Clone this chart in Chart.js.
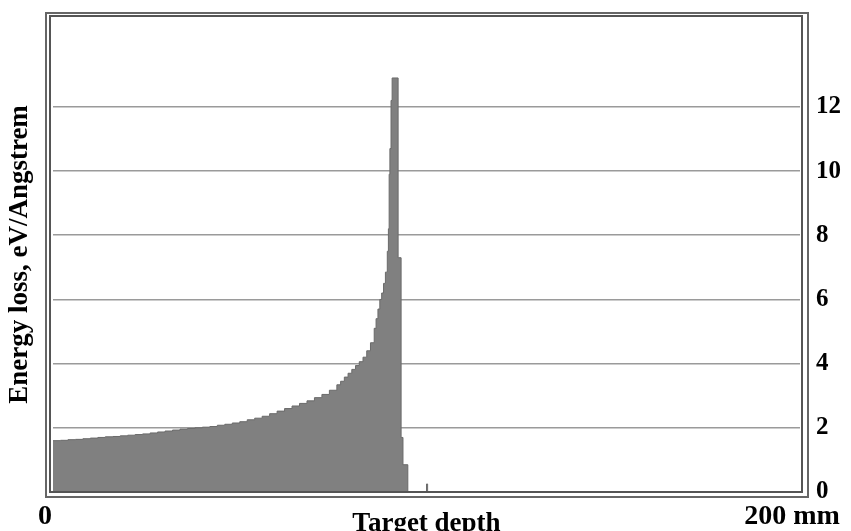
<!DOCTYPE html>
<html>
<head>
<meta charset="utf-8">
<title>Energy loss vs target depth</title>
<script src="https://cdn.jsdelivr.net/npm/chart.js@4.4.1/dist/chart.umd.min.js"></script>
<style>
  body { margin: 0; background: #fff; }
  canvas { display: block; }
</style>
</head>
<body>
<canvas id="bragg-chart" width="851" height="531"></canvas>
<script>
// histogram bins: left edge of each bin (mm) and energy loss in that bin
const depth = [
    0, 2, 4, 6, 8, 10, 12, 14, 16, 18, 20, 22, 24, 26, 28, 30, 32, 34, 36, 38,
    40, 42, 44, 46, 48, 50, 52, 54, 56, 58, 60, 62, 64, 66, 68, 70, 72, 74, 76,
    77, 78, 79, 80, 81, 82, 83, 84, 85, 86, 86.5, 87, 87.5, 88, 88.5, 89, 89.5,
    89.8, 90.0, 90.2, 90.5, 90.8, 92.4, 93.2, 93.7, 95.0, 100.0, 100.3
];
const energyLoss = [
    1.60, 1.61, 1.63, 1.64, 1.66, 1.68, 1.70, 1.72, 1.73, 1.75, 1.77, 1.79, 1.81,
    1.84, 1.87, 1.90, 1.93, 1.96, 1.98, 2.00, 2.02, 2.04, 2.08, 2.11, 2.15, 2.19,
    2.25, 2.30, 2.36, 2.44, 2.52, 2.60, 2.68, 2.76, 2.84, 2.94, 3.04, 3.17, 3.34,
    3.45, 3.58, 3.70, 3.82, 3.94, 4.06, 4.20, 4.40, 4.65, 5.10, 5.40, 5.70, 6.00,
    6.20, 6.50, 6.85, 7.50, 8.20, 9.90, 10.70, 12.20, 12.90, 7.30, 1.70, 0.85,
    0, 0.25, 0
];
const yTicks = [0, 2, 4, 6, 8, 10, 12];
const xTicks = [0, 200];

const serif = 'Liberation Serif';

// double frame round the plot area
const framePlugin = {
    id: 'frame',
    afterDraw(chart) {
        const { ctx, chartArea: a } = chart;
        ctx.save();
        ctx.strokeStyle = '#666666';
        ctx.lineWidth = 2;
        ctx.strokeRect(a.left - 7, a.top - 4, a.right - a.left + 15, a.bottom - a.top + 9);
        ctx.strokeStyle = '#555555';
        ctx.strokeRect(a.left - 3, a.top - 1, a.right - a.left + 5, a.bottom - a.top + 1);
        ctx.restore();
    }
};

// keep edge labels from shrinking the plot area
const noEdgePadding = s => {
    s.paddingTop = 0;
    s.paddingBottom = 0;
    s.paddingLeft = 0;
    s.paddingRight = 0;
};

document.addEventListener("DOMContentLoaded", () => {
    const ctx = document.getElementById('bragg-chart').getContext('2d');
    new Chart(ctx, {
        type: 'line',
        data: {
            datasets: [{
                data: depth.map((d, i) => ({ x: d, y: energyLoss[i] })),
                stepped: 'before',
                fill: 'origin',
                backgroundColor: '#808080',
                borderColor: '#6a6a6a',
                borderWidth: 1,
                pointRadius: 0,
                yAxisID: 'y'
            }]
        },
        plugins: [framePlugin],
        options: {
            responsive: false,
            animation: false,
            layout: { padding: { top: 17, right: 0, bottom: 0, left: 0 } },
            plugins: {
                legend: { display: false },
                tooltip: { enabled: false }
            },
            scales: {
                x: {
                    type: 'linear',
                    min: 0,
                    max: 200,
                    grid: { display: false },
                    border: { display: false },
                    afterBuildTicks: s => { s.ticks = xTicks.map(v => ({ value: v })); },
                    afterFit: s => { s.height = 39; noEdgePadding(s); },
                    ticks: {
                        color: '#000',
                        font: { family: serif, size: 28, weight: 'bold' },
                        padding: 0,
                        labelOffset: -8,
                        maxRotation: 0,
                        callback: v => v === 200 ? '200 mm' : v
                    },
                    title: {
                        display: true,
                        text: 'Target depth',
                        color: '#000',
                        font: { family: serif, size: 27, weight: 'bold' },
                        padding: { top: 0, bottom: -9 }
                    }
                },
                y: {
                    position: 'right',
                    min: 0,
                    max: 14.8,
                    z: 1,
                    grid: { color: '#9a9a9a', lineWidth: 1.5, drawTicks: false },
                    border: { display: false },
                    afterBuildTicks: s => { s.ticks = yTicks.map(v => ({ value: v })); },
                    afterFit: s => { s.width = 51; noEdgePadding(s); },
                    ticks: {
                        color: '#000',
                        font: { family: serif, size: 25, weight: 'bold' },
                        padding: 16
                    }
                },
                yLeft: {
                    position: 'left',
                    min: 0,
                    max: 14.8,
                    grid: { display: false },
                    border: { display: false },
                    ticks: { display: false },
                    afterFit: s => { s.width = 53; noEdgePadding(s); },
                    title: {
                        display: true,
                        text: 'Energy loss, eV/Angstrem',
                        color: '#000',
                        font: { family: serif, size: 27, weight: 'bold' },
                        padding: { top: 4, bottom: 0 }
                    }
                }
            }
        }
    });
});
</script>
</body>
</html>
